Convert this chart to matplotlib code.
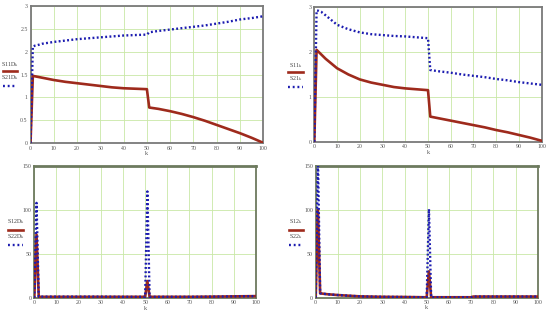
import matplotlib
matplotlib.use("Agg")
import matplotlib.pyplot as plt
from matplotlib.lines import Line2D

plt.rcParams['font.family'] = ['Liberation Serif', 'DejaVu Serif']
plt.rcParams['mathtext.fontset'] = 'stix'

# k positions
k_top = [0, 1, 2, 3, 5, 10, 15, 20, 25, 30, 35, 40, 45, 50,
         51, 55, 60, 65, 70, 75, 80, 85, 90, 95, 100]

# upper left panel
s11d = [0, 1.47, 1.46, 1.45, 1.43, 1.38, 1.34, 1.31, 1.28, 1.25, 1.22, 1.20, 1.19, 1.18,
        0.78, 0.75, 0.70, 0.64, 0.57, 0.49, 0.40, 0.31, 0.22, 0.12, 0.01]
s21d = [0, 2.11, 2.13, 2.14, 2.17, 2.21, 2.24, 2.27, 2.29, 2.31, 2.33, 2.35, 2.36, 2.37,
        2.42, 2.45, 2.48, 2.51, 2.54, 2.57, 2.61, 2.65, 2.70, 2.73, 2.77]

# upper right panel
s11 = [0, 2.05, 2.00, 1.95, 1.85, 1.64, 1.50, 1.39, 1.32, 1.27, 1.22, 1.19, 1.17, 1.15,
       0.56, 0.52, 0.47, 0.42, 0.37, 0.32, 0.26, 0.21, 0.15, 0.09, 0.02]
s21 = [0, 2.93, 2.92, 2.90, 2.82, 2.61, 2.51, 2.44, 2.40, 2.38, 2.36, 2.35, 2.33, 2.31,
       1.60, 1.57, 1.54, 1.50, 1.47, 1.44, 1.40, 1.37, 1.33, 1.30, 1.27]

# lower panels
k_bot = [0, 1, 2, 5, 10, 20, 30, 40, 49, 50, 51, 52, 53, 60, 70, 71, 80, 90, 100]
s12d = [0, 72, 1.0, 1.0, 1.0, 1.0, 1.0, 1.0, 1.0, 1.0, 19, 1.0, 1.0, 1.0, 1.0, 1.0, 1.2, 1.5, 1.8]
s22d = [0, 108, 1.2, 1.2, 1.2, 1.2, 1.2, 1.0, 1.0, 1.0, 121, 1.0, 1.0, 1.0, 1.0, 1.0, 1.2, 1.5, 1.8]
s12 = [0, 100, 5, 4, 3, 1.5, 1.0, 0.8, 0.5, 0.5, 30, 0.5, 0.5, 0.5, 0.5, 1.3, 1.3, 1.3, 1.3]
s22 = [0, 160, 5, 4, 3, 1.5, 1.0, 0.8, 0.5, 0.5, 101, 0.5, 0.5, 0.5, 0.5, 1.3, 1.3, 1.3, 1.3]

x_ticks = list(range(0, 101, 10))

red = '#9e2a1c'
blue = '#1c1cb0'
grid_c = '#c9e8a6'

fig = plt.figure(figsize=(5.5, 3.13), dpi=100)

panels = [
    # rect, k, red series, blue series, ylim, yticks, ytick labels, names, legend y (px), legend x (px), spine colour, k label y (px)
    ([30.5 / 550, 1 - 143.3 / 313, 232.8 / 550, 137.6 / 313], k_top, s11d, s21d, 3,
     [0, 0.5, 1, 1.5, 2, 2.5, 3], ['0', '0.5', '1', '1.5', '2', '2.5', '3'],
     ('S11D', 'S21D'), (65, 71, 78, 86), (3, 17), '#7a7a7a', 154),
    ([314.3 / 550, 1 - 141.7 / 313, 227.4 / 550, 134.4 / 313], k_top, s11, s21, 3,
     [0, 1, 2, 3], ['0', '1', '2', '3'],
     ('S11', 'S21'), (66, 72, 79, 87), (288, 303), '#7a7a7a', 153),
    ([34.3 / 550, 1 - 297.7 / 313, 221.7 / 550, 131.7 / 313], k_bot, s12d, s22d, 150,
     [0, 50, 100, 150], ['0', '50', '100', '150'],
     ('S12D', 'S22D'), (222, 230, 237, 245), (8, 23), '#6d7a5e', 308),
    ([315.7 / 550, 1 - 297.7 / 313, 222.0 / 550, 131.7 / 313], k_bot, s12, s22, 150,
     [0, 50, 100, 150], ['0', '50', '100', '150'],
     ('S12', 'S22'), (222, 230, 237, 245), (289, 303), '#6d7a5e', 307.5),
]

for rect, kk, yr, yb, ytop, yt, ytl, names, ly, lx, sc, ky in panels:
    ax = fig.add_axes(rect)
    ax.plot(kk, yr, color=red, lw=1.9, solid_joinstyle='round', zorder=3)
    ax.plot(kk, yb, color=blue, lw=1.7, linestyle=(0, (0.8, 1.0)), zorder=4)
    ax.set_xlim(0, 100)
    ax.set_ylim(0, ytop)
    ax.set_xticks(x_ticks)
    ax.set_xticklabels([str(v) for v in x_ticks])
    ax.set_yticks(yt)
    ax.set_yticklabels(ytl)
    ax.tick_params(length=0, labelsize=4.2, labelcolor='#555555', pad=2)
    ax.grid(True, color=grid_c, lw=0.6)
    ax.set_axisbelow(True)
    for sp in ax.spines.values():
        sp.set_color(sc)
        sp.set_linewidth(1.3)
    if ytop == 150:
        ax.spines['top'].set_linewidth(2.0)

    # axis name under the tick labels
    fig.text(rect[0] + rect[2] / 2, 1 - ky / 313, 'k', fontsize=4.5,
             ha='center', va='center', color='#555555')

    # Mathcad style legend on the left of the axes
    x0, x1 = lx
    xc = (x0 + x1) / 2 / 550
    fig.text(xc, 1 - ly[0] / 313, names[0] + r'$_{\mathrm{k}}$', fontsize=4.3,
             ha='center', va='center', color='#444444')
    fig.add_artist(Line2D([x0 / 550, x1 / 550], [1 - ly[1] / 313] * 2, color=red, lw=1.9))
    fig.text(xc, 1 - ly[2] / 313, names[1] + r'$_{\mathrm{k}}$', fontsize=4.3,
             ha='center', va='center', color='#444444')
    fig.add_artist(Line2D([x0 / 550, x1 / 550], [1 - ly[3] / 313] * 2, color=blue, lw=1.7,
                          linestyle=(0, (0.8, 1.2))))

fig.savefig('out.png', dpi=100)
